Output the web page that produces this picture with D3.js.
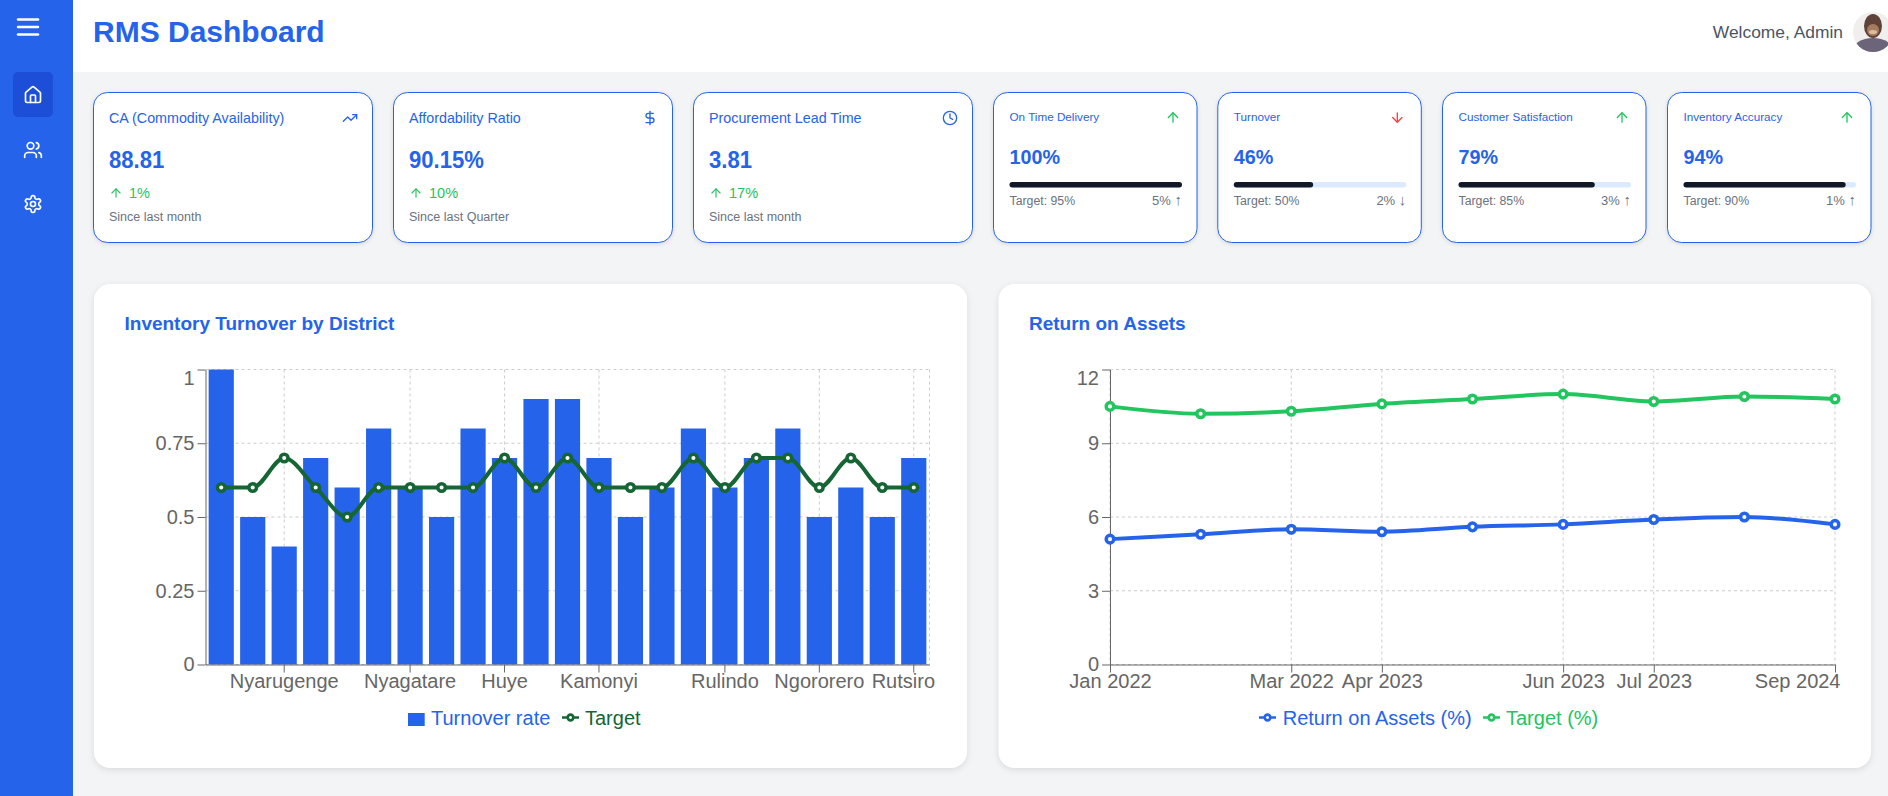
<!DOCTYPE html>
<html><head><meta charset="utf-8"><title>RMS Dashboard</title>
<script src="https://cdnjs.cloudflare.com/ajax/libs/d3/7.8.5/d3.min.js"></script>
<style>
html,body{margin:0;padding:0;background:#f3f4f6;overflow:hidden}
svg{display:block}
text{font-family:"Liberation Sans",Arial,Helvetica,sans-serif}
.card{filter:drop-shadow(0 1px 2px rgba(0,0,0,.12))}
.chartcard{filter:drop-shadow(0 2px 3px rgba(0,0,0,.10))}
</style></head><body>
<svg id="page" width="1888" height="796"></svg>
<script>
// ---------- data ----------
const kpiTitles  = ["CA (Commodity Availability)", "Affordability Ratio", "Procurement Lead Time"];
const kpiValues  = ["88.81", "90.15%", "3.81"];
const kpiChanges = ["1%", "10%", "17%"];
const kpiNotes   = ["Since last month", "Since last Quarter", "Since last month"];
const kpiIcons   = ["trend", "dollar", "clock"];

const progressTitles  = ["On Time Delivery", "Turnover", "Customer Satisfaction", "Inventory Accuracy"];
const progressValues  = [100, 46, 79, 94];
const progressTargets = [95, 50, 85, 90];
const progressDeltas  = ["5%", "2%", "3%", "1%"];
const progressUp      = [true, false, true, true];

const districtLabels = ["", "", "Nyarugenge", "", "", "", "Nyagatare", "", "", "Huye", "", "", "Kamonyi", "", "", "", "Rulindo", "", "", "Ngororero", "", "", "Rutsiro"];
const turnoverRate   = [1, .5, .4, .7, .6, .8, .6, .5, .8, .7, .9, .9, .7, .5, .6, .8, .6, .7, .8, .5, .6, .5, .7];
const turnoverTarget = [.6, .6, .7, .6, .5, .6, .6, .6, .6, .7, .6, .7, .6, .6, .6, .7, .6, .7, .7, .6, .7, .6, .6];
const turnoverTicks  = [0, .25, .5, .75, 1];

const roaLabels = ["Jan 2022", "", "Mar 2022", "Apr 2023", "", "Jun 2023", "Jul 2023", "", "Sep 2024"];
const roaValues = [5.1, 5.3, 5.5, 5.4, 5.6, 5.7, 5.9, 6.0, 5.7];
const roaTarget = [10.5, 10.2, 10.3, 10.6, 10.8, 11.0, 10.7, 10.9, 10.8];
const roaTicks  = [0, 3, 6, 9, 12];

// ---------- style ----------
const BLUE = "#2563eb", GREEN = "#22c55e", DARKGREEN = "#166534", RED = "#ef4444", GRAY = "#6b7280", AXIS = "#666";
const icons = {
  menu:["M4 6h16","M4 12h16","M4 18h16"],
  home:["M15 21v-8a1 1 0 0 0-1-1h-4a1 1 0 0 0-1 1v8","M3 10a2 2 0 0 1 .709-1.528l7-5.999a2 2 0 0 1 2.582 0l7 5.999A2 2 0 0 1 21 10v9a2 2 0 0 1-2 2H5a2 2 0 0 1-2-2z"],
  users:["M16 21v-2a4 4 0 0 0-4-4H6a4 4 0 0 0-4 4v2","M13 7a4 4 0 1 1-8 0a4 4 0 1 1 8 0","M22 21v-2a4 4 0 0 0-3-3.87","M16 3.13a4 4 0 0 1 0 7.75"],
  gear:["M12.22 2h-.44a2 2 0 0 0-2 2v.18a2 2 0 0 1-1 1.73l-.43.25a2 2 0 0 1-2 0l-.15-.08a2 2 0 0 0-2.73.73l-.22.38a2 2 0 0 0 .73 2.73l.15.1a2 2 0 0 1 1 1.72v.51a2 2 0 0 1-1 1.74l-.15.09a2 2 0 0 0-.73 2.73l.22.38a2 2 0 0 0 2.73.73l.15-.08a2 2 0 0 1 2 0l.43.25a2 2 0 0 1 1 1.73V20a2 2 0 0 0 2 2h.44a2 2 0 0 0 2-2v-.18a2 2 0 0 1 1-1.73l.43-.25a2 2 0 0 1 2 0l.15.08a2 2 0 0 0 2.73-.73l.22-.39a2 2 0 0 0-.73-2.73l-.15-.08a2 2 0 0 1-1-1.74v-.5a2 2 0 0 1 1-1.74l.15-.09a2 2 0 0 0 .73-2.73l-.22-.38a2 2 0 0 0-2.73-.73l-.15.08a2 2 0 0 1-2 0l-.43-.25a2 2 0 0 1-1-1.73V4a2 2 0 0 0-2-2z","M15 12a3 3 0 1 1-6 0a3 3 0 1 1 6 0"],
  trend:["M22 7 13.5 15.5 8.5 10.5 2 17","M16 7h6v6"],
  dollar:["M12 2v20","M17 5H9.5a3.5 3.5 0 0 0 0 7h5a3.5 3.5 0 0 1 0 7H6"],
  clock:["M22 12a10 10 0 1 1-20 0a10 10 0 1 1 20 0","M12 6v6l4 2"],
  up:["m5 12 7-7 7 7","M12 19V5"],
  down:["M12 5v14","m19 12-7 7-7-7"]
};

const svg = d3.select("#page");
function icon(g, name, cx, cy, size, color, sw) {
  const s = size / 24;
  const n = g.append("g").attr("transform", `translate(${cx - size/2},${cy - size/2}) scale(${s})`)
    .attr("fill", "none").attr("stroke", color).attr("stroke-width", sw === undefined ? 2 : sw)
    .attr("stroke-linecap", "round").attr("stroke-linejoin", "round");
  icons[name].forEach(d => n.append("path").attr("d", d));
}
function label(g, x, y, str, size, color, opts) {
  opts = opts || {};
  const t = g.append("text").attr("x", x).attr("y", y).text(str)
    .attr("font-size", size).attr("fill", color)
    .attr("font-weight", opts.bold ? 700 : 400)
    .attr("text-anchor", opts.anchor || "start");
  if (opts.squeeze) {
    t.attr("textLength", t.node().getComputedTextLength() * opts.squeeze).attr("lengthAdjust", "spacingAndGlyphs");
  }
  return t;
}

// ---------- page frame ----------
svg.append("rect").attr("width", 1888).attr("height", 796).attr("fill", "#f3f4f6");
svg.append("rect").attr("x", 73).attr("width", 1815).attr("height", 72).attr("fill", "#fff");
svg.append("rect").attr("width", 73).attr("height", 796).attr("fill", BLUE);
svg.append("rect").attr("x", 13).attr("y", 72).attr("width", 40).attr("height", 45).attr("rx", 5).attr("fill", "#1d4ed8");
icon(svg, "menu", 28, 27, 30, "#fff", 2);
icon(svg, "home", 33, 95, 20, "#fff", 2);
icon(svg, "users", 33, 150, 20, "#fff", 2);
icon(svg, "gear", 33, 204, 20, "#fff", 2);
label(svg, 93, 42, "RMS Dashboard", 30, BLUE, {bold:true});
label(svg, 1843, 38, "Welcome, Admin", 17.4, "#4b5563", {anchor:"end"});

// avatar (approximation of the user's photo)
const defs = svg.append("defs");
defs.append("clipPath").attr("id", "av").append("circle").attr("cx", 1873).attr("cy", 32).attr("r", 20);
const av = svg.append("g").attr("clip-path", "url(#av)");
av.append("rect").attr("x", 1853).attr("y", 12).attr("width", 40).attr("height", 40).attr("fill", "#f1efee");
av.append("ellipse").attr("cx", 1873).attr("cy", 52).attr("rx", 21).attr("ry", 14).attr("fill", "#6c6478");
av.append("ellipse").attr("cx", 1873).attr("cy", 26).attr("rx", 9).attr("ry", 12).attr("fill", "#5f4238");
av.append("ellipse").attr("cx", 1873).attr("cy", 30).attr("rx", 6).attr("ry", 6).attr("fill", "#a67c60");
av.append("ellipse").attr("cx", 1873).attr("cy", 32).attr("rx", 4).attr("ry", 2).attr("fill", "#d9bd9f");

// ---------- KPI cards ----------
const kpiX = d3.scalePoint().domain(d3.range(kpiTitles.length)).range([93, 693]);
kpiTitles.forEach((t, i) => {
  const x = kpiX(i), g = svg.append("g");
  g.append("rect").attr("class", "card").attr("x", x + .5).attr("y", 92.5).attr("width", 279).attr("height", 150)
    .attr("rx", 14).attr("fill", "#fff").attr("stroke", BLUE);
  label(g, x + 16, 122.5, t, 14.3, BLUE);
  icon(g, kpiIcons[i], x + 257, 118, 16, BLUE, 2);
  label(g, x + 16, 168, kpiValues[i], 24, BLUE, {bold:true, squeeze:.92});
  icon(g, "up", x + 23, 193, 14, GREEN, 2);
  label(g, x + 36, 197.5, kpiChanges[i], 14.5, GREEN);
  label(g, x + 16, 220.5, kpiNotes[i], 12.5, GRAY);
});

// ---------- progress cards ----------
const progX = [993, 1217.3, 1442, 1667];
const barW = d3.scaleLinear().domain([0, 100]).range([0, 172.5]);
progressTitles.forEach((t, i) => {
  const x = progX[i], g = svg.append("g");
  g.append("rect").attr("class", "card").attr("x", x + .5).attr("y", 92.5).attr("width", 203.5).attr("height", 150)
    .attr("rx", 14).attr("fill", "#fff").attr("stroke", BLUE);
  label(g, x + 16.5, 121, t, 11.7, BLUE);
  icon(g, progressUp[i] ? "up" : "down", x + 180, 117.5, 16, progressUp[i] ? GREEN : RED, 2);
  label(g, x + 16.5, 164, progressValues[i] + "%", 21, BLUE, {bold:true, squeeze:.94});
  g.append("rect").attr("x", x + 16.5).attr("y", 182).attr("width", barW(100)).attr("height", 5.5).attr("rx", 2.75).attr("fill", "#dbeafe");
  g.append("rect").attr("x", x + 16.5).attr("y", 182).attr("width", barW(progressValues[i])).attr("height", 5.5).attr("rx", 2.75).attr("fill", "#111827");
  label(g, x + 16.5, 205, "Target: " + progressTargets[i] + "%", 12.3, GRAY);
  const d = label(g, x + 189, 205, progressDeltas[i] + " ", 13, GRAY, {anchor:"end"});
  d.append("tspan").attr("font-size", 15).text(progressUp[i] ? "↑" : "↓");
});

// ---------- chart helpers ----------
function chartCard(x, w, title) {
  const g = svg.append("g");
  g.append("rect").attr("class", "chartcard").attr("x", x).attr("y", 284).attr("width", w).attr("height", 484).attr("rx", 16).attr("fill", "#fff");
  label(g, x + 30.5, 330, title, 19, BLUE, {bold:true});
  return g;
}
function axes(g, xAxis, yAxis, left, bottom, right) {
  const xg = g.append("g").attr("transform", `translate(0,${bottom})`).call(xAxis);
  const yg = g.append("g").attr("transform", `translate(${left},0)`).call(yAxis);
  [xg, yg].forEach(a => {
    a.selectAll("path,line").attr("stroke", AXIS);
    a.selectAll("text").attr("font-size", 20).attr("fill", AXIS).attr("font-family", '"Liberation Sans",Arial,sans-serif');
  });
  clampRight(xg, right);
  // topmost y label sits below its tick
  yg.selectAll(".tick").filter((d, i, n) => i === n.length - 1).select("text").attr("dy", "0.32em").attr("y", 9);
}
function clampRight(xg, right) {
  xg.selectAll(".tick").each(function () {
    const t = d3.select(this).select("text"), len = t.node().getComputedTextLength();
    const cx = +d3.select(this).attr("transform").match(/translate\(([-\d.]+)/)[1];
    const over = cx + len / 2 - (right + 5.5);
    if (over > 0) t.attr("x", -over);
  });
}
function dots(g, pts, color) {
  g.append("g").selectAll("circle").data(pts).join("circle")
    .attr("cx", d => d[0]).attr("cy", d => d[1]).attr("r", 3.8)
    .attr("fill", "#fff").attr("stroke", color).attr("stroke-width", 3.5);
}
function legendLine(g, x, cy, color, str, textX) {
  const s = 17 / 32;
  const n = g.append("g").attr("transform", `translate(${x},${cy - 8.5}) scale(${s})`)
    .attr("fill", "none").attr("stroke", color).attr("stroke-width", 5);
  n.append("path").attr("d", "M0,16h10.67A5.33,5.33,0,1,1,21.33,16H32M21.33,16A5.33,5.33,0,1,1,10.67,16");
  label(g, textX, cy + 7, str, 20, color);
}

// ---------- Inventory Turnover ----------
(function () {
  const g = chartCard(94, 873, "Inventory Turnover by District");
  const L = 205.5, R = 929.5, T = 369.5, B = 664.5;
  const x = d3.scaleBand().domain(d3.range(districtLabels.length)).range([L, R]).paddingInner(.2).paddingOuter(.1);
  const y = d3.scaleLinear().domain([0, 1]).range([B, T]);
  const cx = i => x(i) + x.bandwidth() / 2;
  const shown = d3.range(districtLabels.length).filter(i => districtLabels[i]);
  const gr = g.append("g").attr("stroke", "#ccc").attr("stroke-dasharray", "3 3");
  turnoverTicks.forEach(v => gr.append("line").attr("x1", L).attr("x2", R).attr("y1", y(v)).attr("y2", y(v)));
  shown.map(cx).concat([R]).forEach(v => gr.append("line").attr("x1", v).attr("x2", v).attr("y1", T).attr("y2", B));
  g.append("g").selectAll("rect").data(turnoverRate).join("rect")
    .attr("x", (d, i) => x(i)).attr("width", x.bandwidth())
    .attr("y", d => y(d)).attr("height", d => B - y(d)).attr("fill", BLUE);
  const xAxis = d3.axisBottom(x).tickValues(shown).tickFormat(i => districtLabels[i]).tickSize(8).tickPadding(1).tickSizeOuter(0);
  const yAxis = d3.axisLeft(y).tickValues(turnoverTicks).tickFormat(d => String(d)).tickSize(8).tickPadding(3).tickSizeOuter(0);
  axes(g, xAxis, yAxis, L, B, R);
  const pts = turnoverTarget.map((v, i) => [cx(i), y(v)]);
  g.append("path").attr("d", d3.line().curve(d3.curveMonotoneX)(pts)).attr("fill", "none").attr("stroke", DARKGREEN).attr("stroke-width", 4);
  dots(g, pts, DARKGREEN);
  g.append("rect").attr("x", 408).attr("y", 713).attr("width", 16.7).attr("height", 13).attr("fill", BLUE);
  label(g, 431, 724.5, "Turnover rate", 20, BLUE);
  legendLine(g, 562, 717.5, DARKGREEN, "Target", 585);
})();

// ---------- Return on Assets ----------
(function () {
  const g = chartCard(998.5, 872.5, "Return on Assets");
  const L = 1110, R = 1835, T = 369.5, B = 664.5;
  const x = d3.scalePoint().domain(d3.range(roaLabels.length)).range([L, R]);
  const y = d3.scaleLinear().domain([0, 12]).range([B, T]);
  const shown = d3.range(roaLabels.length).filter(i => roaLabels[i]);
  const gr = g.append("g").attr("stroke", "#ccc").attr("stroke-dasharray", "3 3");
  roaTicks.forEach(v => gr.append("line").attr("x1", L).attr("x2", R).attr("y1", y(v)).attr("y2", y(v)));
  shown.forEach(i => gr.append("line").attr("x1", x(i)).attr("x2", x(i)).attr("y1", T).attr("y2", B));
  const xAxis = d3.axisBottom(x).tickValues(shown).tickFormat(i => roaLabels[i]).tickSize(8).tickPadding(1).tickSizeOuter(0);
  const yAxis = d3.axisLeft(y).tickValues(roaTicks).tickSize(8).tickPadding(3).tickSizeOuter(0);
  axes(g, xAxis, yAxis, L, B, R);
  [[roaValues, BLUE], [roaTarget, GREEN]].forEach(([vals, col]) => {
    const pts = vals.map((v, i) => [x(i), y(v)]);
    g.append("path").attr("d", d3.line().curve(d3.curveMonotoneX)(pts)).attr("fill", "none").attr("stroke", col).attr("stroke-width", 4);
    dots(g, pts, col);
  });
  legendLine(g, 1259, 717.5, BLUE, "Return on Assets (%)", 1282.7);
  legendLine(g, 1483, 717.5, GREEN, "Target (%)", 1506);
})();
</script>
</body></html>
